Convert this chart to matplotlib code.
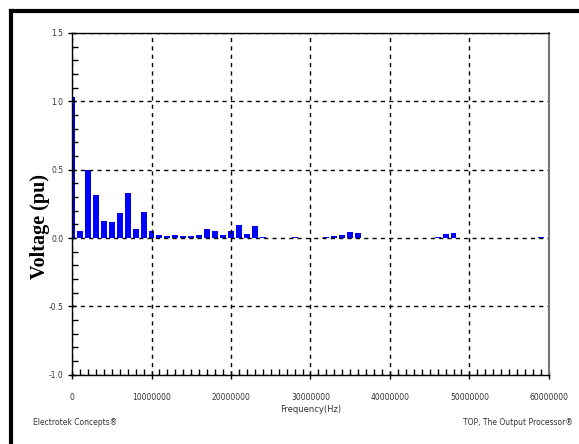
import matplotlib.pyplot as plt
from matplotlib.lines import Line2D
from matplotlib.ticker import MultipleLocator

# harmonic spectrum, 1 MHz spacing
freq = [0, 1e6, 2e6, 3e6, 4e6, 5e6, 6e6, 7e6, 8e6, 9e6, 10e6,
        11e6, 12e6, 13e6, 14e6, 15e6, 16e6, 17e6, 18e6, 19e6, 20e6,
        21e6, 22e6, 23e6, 24e6, 28e6, 32e6, 33e6, 34e6, 35e6, 36e6,
        46e6, 47e6, 48e6, 59e6]
volt = [1.035, 0.049, 0.498, 0.316, 0.127, 0.118, 0.184, 0.326, 0.069, 0.194, 0.049,
        0.022, 0.012, 0.022, 0.012, 0.012, 0.022, 0.069, 0.049, 0.022, 0.049,
        0.098, 0.032, 0.088, 0.010, 0.006, 0.010, 0.017, 0.025, 0.044, 0.040,
        0.010, 0.030, 0.035, 0.010]

xticks = [0, 10000000, 20000000, 30000000, 40000000, 50000000, 60000000]
yticks = [-1.0, -0.5, 0.0, 0.5, 1.0, 1.5]

fig = plt.figure(figsize=(5.79, 4.44), dpi=100)
ax = fig.add_axes([0.1244, 0.156, 0.8236, 0.7697])

ax.bar(freq, volt, width=0.75e6, color='#0000ff', linewidth=0)

ax.set_xlim(0, 60e6)
ax.set_ylim(-1.0, 1.5)
ax.set_xticks(xticks)
ax.set_xticklabels([str(t) for t in xticks])
ax.set_yticks(yticks)
ax.set_yticklabels(['%.1f' % t for t in yticks])
ax.xaxis.set_minor_locator(MultipleLocator(1e6))
ax.yaxis.set_minor_locator(MultipleLocator(0.1))

ax.tick_params(which='major', direction='inout', length=6, width=1,
               labelsize=5.5, labelcolor='#333333', pad=3)
ax.tick_params(axis='x', which='major', pad=10)
ax.tick_params(which='minor', direction='in', length=4, width=1)
ax.tick_params(top=False, right=False, which='both')

ax.grid(True, which='major', color='black', linestyle=(0, (3, 3)), linewidth=1)

for s in ['left', 'bottom', 'top']:
    ax.spines[s].set_color('black')
    ax.spines[s].set_linewidth(1)
ax.spines['right'].set_color('#777777')
ax.spines['right'].set_linewidth(1.5)

ax.set_xlabel('Frequency(Hz)', fontsize=6, color='#333333', labelpad=2)
ax.set_ylabel('Voltage (pu)', fontsize=14.5, fontweight='bold',
              family='Liberation Serif', va='center')
ax.yaxis.set_label_coords(-0.067, 0.433)

fig.text(33 / 579, 1 - 422 / 444, 'Electrotek Concepts®', fontsize=5.5,
         color='#333333', va='center', ha='left')
fig.text(573 / 579, 1 - 422 / 444, 'TOP, The Output Processor®', fontsize=5.5,
         color='#333333', va='center', ha='right')

# outer frame (left and top edges visible)
fig.add_artist(Line2D([11 / 579, 11 / 579], [0, 1 - 11 / 444], color='black',
                      linewidth=3, transform=fig.transFigure))
fig.add_artist(Line2D([11 / 579, 1], [1 - 11 / 444, 1 - 11 / 444], color='black',
                      linewidth=3, transform=fig.transFigure))

fig.savefig('out.png', dpi=100)
